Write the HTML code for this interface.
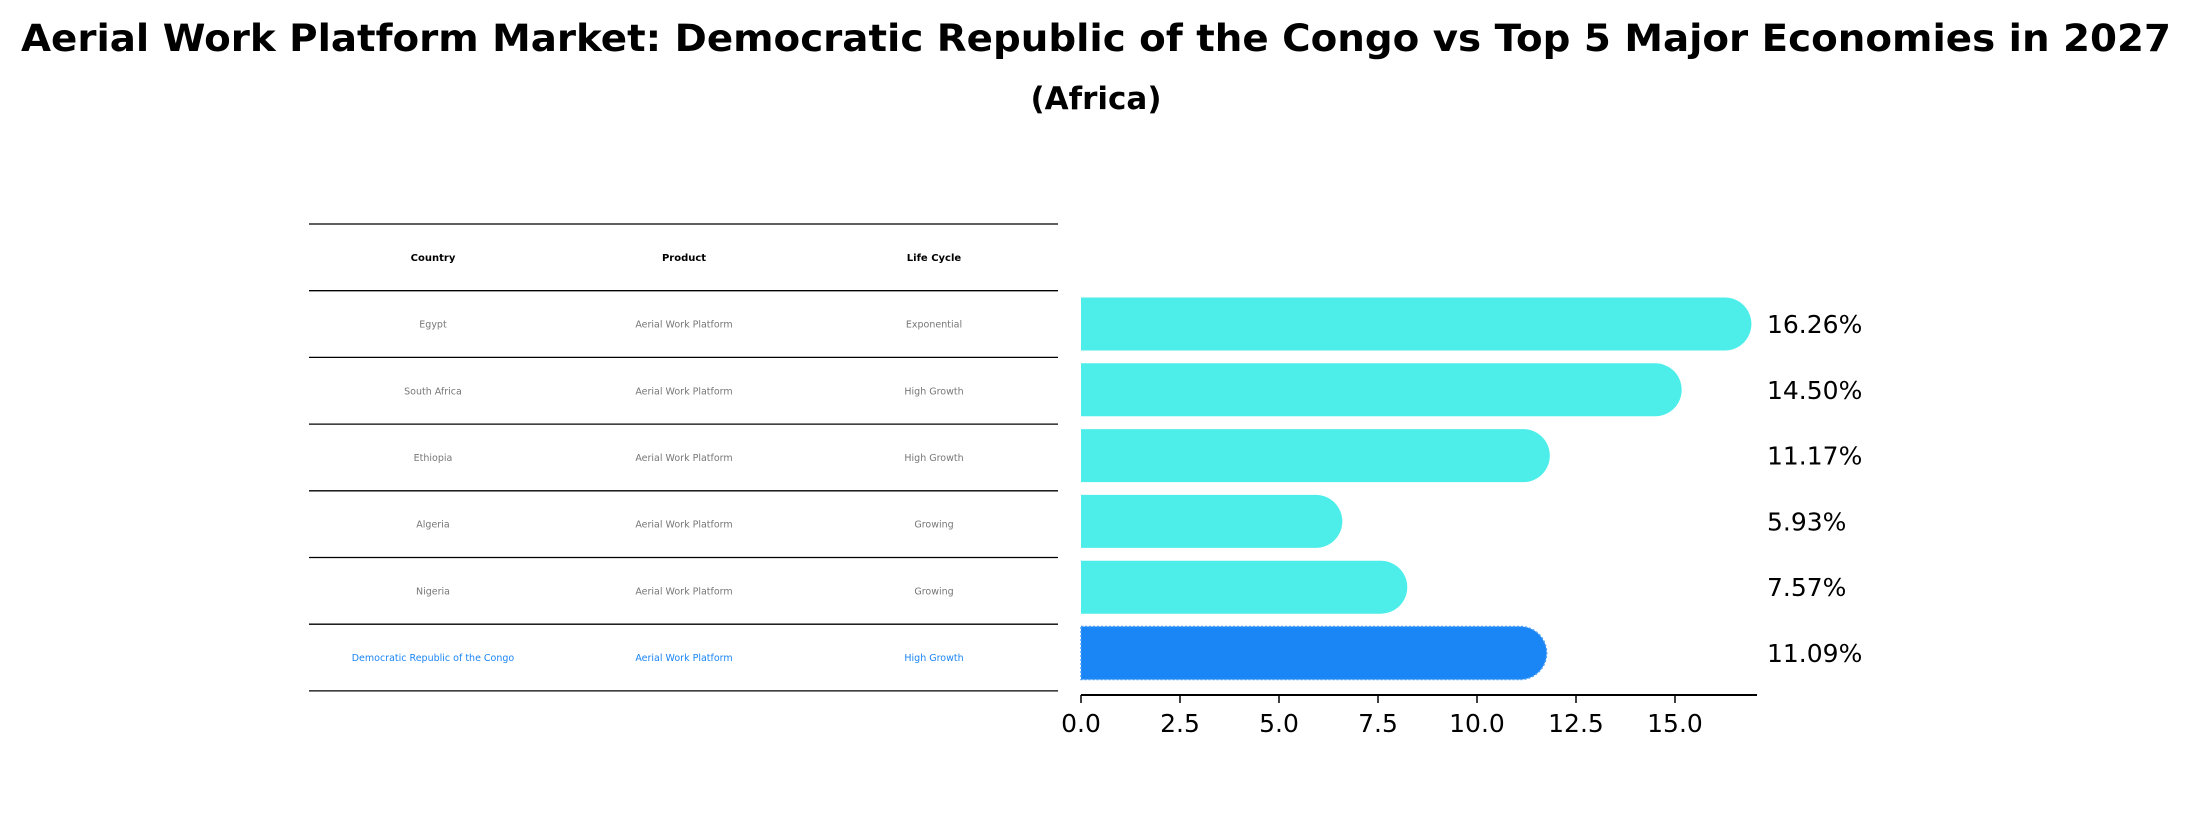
<!DOCTYPE html>
<html><head><meta charset="utf-8"><style>
html,body{margin:0;padding:0;background:#fff;}
svg{display:block;font-family:"DejaVu Sans","Liberation Sans",sans-serif;}
</style></head><body>
<svg id="chart" width="2192" height="823" viewBox="0 0 2192 823">
<text x="1096" y="51" text-anchor="middle" font-size="37" font-weight="bold" textLength="2150" lengthAdjust="spacingAndGlyphs">Aerial Work Platform Market: Democratic Republic of the Congo vs Top 5 Major Economies in 2027</text>
<text x="1096" y="109" text-anchor="middle" font-size="31" font-weight="bold">(Africa)</text>
<g id="table"></g>
<g id="bars"></g>
</svg>
<script>
const countries = ["Egypt","South Africa","Ethiopia","Algeria","Nigeria","Democratic Republic of the Congo"];
const products = ["Aerial Work Platform","Aerial Work Platform","Aerial Work Platform","Aerial Work Platform","Aerial Work Platform","Aerial Work Platform"];
const lifeCycles = ["Exponential","High Growth","High Growth","Growing","Growing","High Growth"];
const values = [16.26,14.50,11.17,5.93,7.57,11.09];
const xTicks = [0,2.5,5,7.5,10,12.5,15];
const headers = ["Country","Product","Life Cycle"];

const NS="http://www.w3.org/2000/svg";
function mk(tag,attrs,parent){const e=document.createElementNS(NS,tag);for(const k in attrs)e.setAttribute(k,attrs[k]);parent.appendChild(e);return e;}

// table
const tbl=document.getElementById('table');
const tx0=309, tx1=1058, ty0=224, rowH=66.7;
const colX=[433,684,934];
for(let i=0;i<=countries.length+1;i++){
  const y=ty0+i*rowH;
  const l=mk('line',{x1:tx0,x2:tx1,y1:y,y2:y,stroke:'#000','stroke-width':1.3},tbl);
  
  
}
headers.forEach((h,j)=>{
  const t=mk('text',{x:colX[j],y:ty0+rowH/2+3.5,'text-anchor':'middle','font-size':10,'font-weight':'bold',fill:'#000'},tbl);
  t.textContent=h;
  
  
});
countries.forEach((c,i)=>{
  const y=ty0+(i+1)*rowH+rowH/2+3.5;
  const col=i===countries.length-1?'#1a85f5':'#777';
  [c,products[i],lifeCycles[i]].forEach((v,j)=>{
    const t=mk('text',{x:colX[j],y:y,'text-anchor':'middle','font-size':9.5,fill:col},tbl);
    t.textContent=v;
    
    
  });
});

// bars
const g=document.getElementById('bars');
const X0=1081, PX=39.6, axisY=695, axisEnd=1757, barH=53;
const yc=i=>324+i*65.8;
const xs=v=>X0+v*PX;
values.forEach((v,i)=>{
  const hl=i===values.length-1;
  const col=hl?'#1a85f5':'#4deeea';
  const y=yc(i), r=barH/2, w=xs(v)-X0;
  const p=mk('path',{d:`M${X0},${y-r} H${X0+w} A${r},${r} 0 0 1 ${X0+w},${y+r} H${X0} Z`,fill:col},g);
  if(hl){p.setAttribute('stroke','#4a9ff5');p.setAttribute('stroke-dasharray','2,2');p.setAttribute('stroke-width','1.5');}
  
  
  const t=mk('text',{x:1767,y:y+9,'font-size':25,fill:'#000'},g);
  t.textContent=v.toFixed(2)+'%';
  
  
});
const ax=mk('line',{x1:X0,x2:axisEnd,y1:axisY,y2:axisY,stroke:'#000','stroke-width':2},g);


xTicks.forEach(v=>{
  const tk=mk('line',{x1:xs(v),x2:xs(v),y1:axisY,y2:axisY+8,stroke:'#000','stroke-width':1.5},g);
  
  
  const t=mk('text',{x:xs(v),y:axisY+37,'text-anchor':'middle','font-size':25,fill:'#000'},g);
  t.textContent=v.toFixed(1);
  
  
});
</script>
</body></html>
